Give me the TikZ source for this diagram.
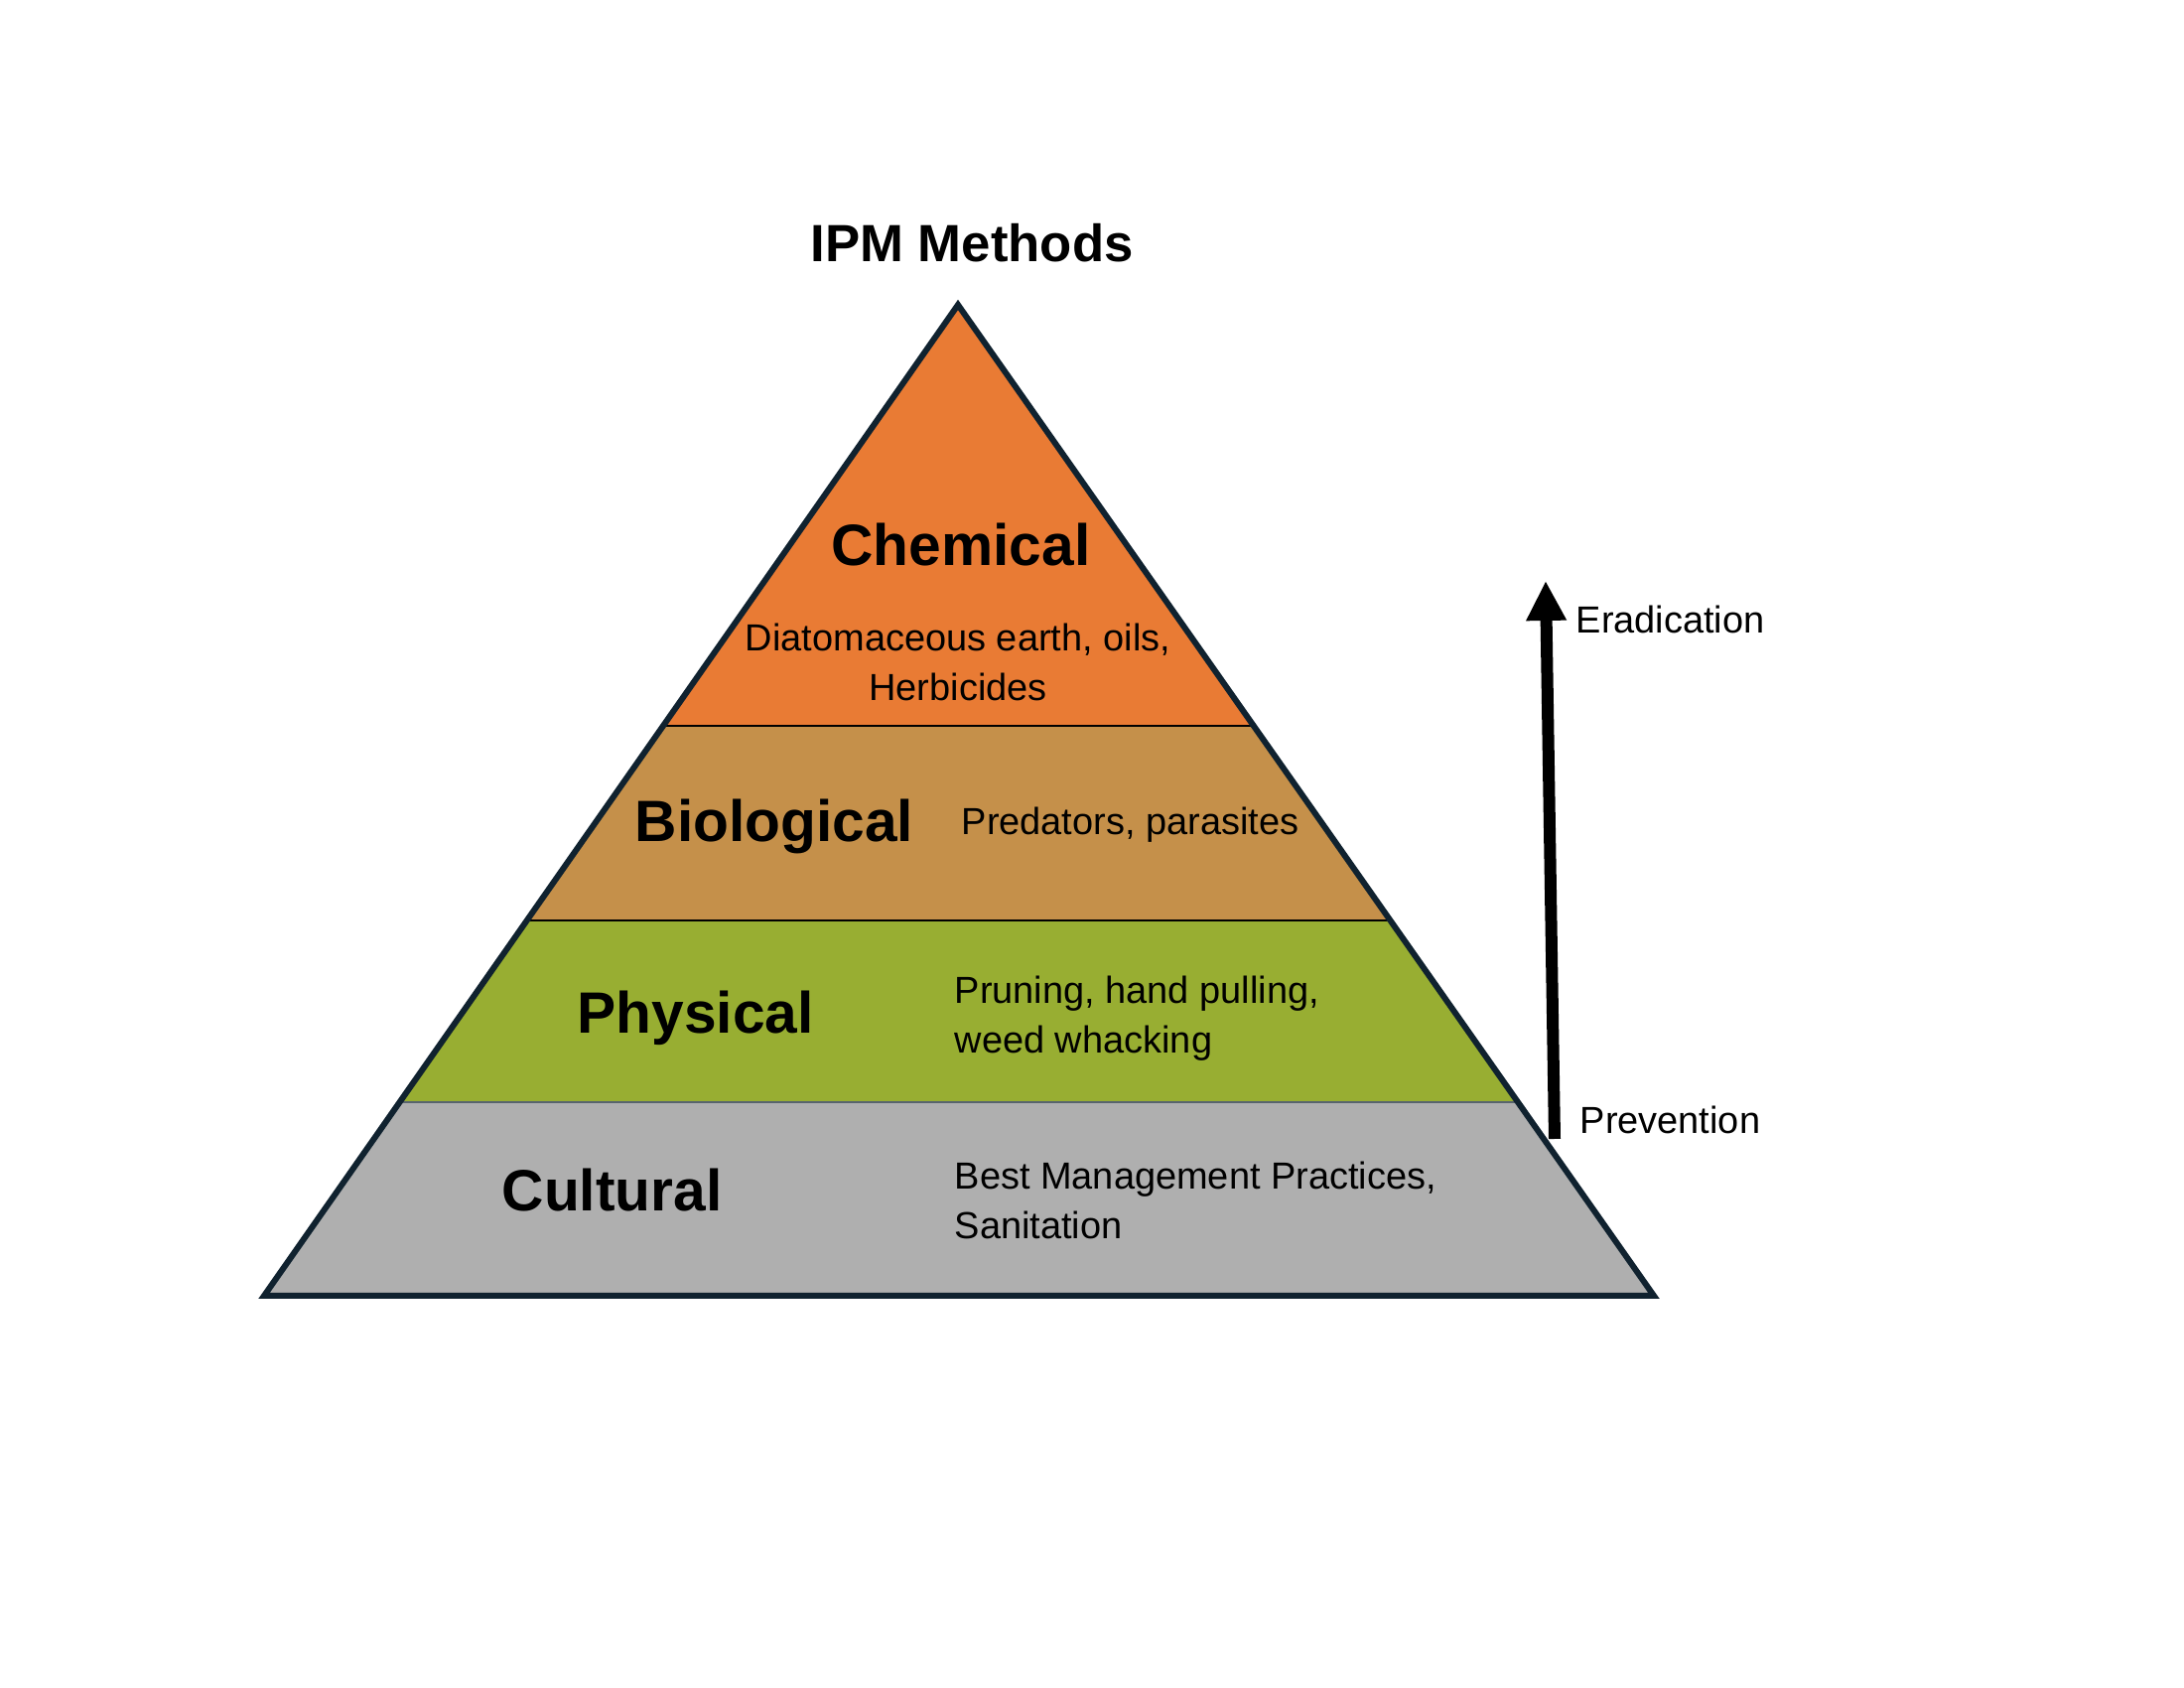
\documentclass[tikz,border=0pt]{standalone}
\usepackage{fontspec}
\setmainfont{Liberation Sans}
\usetikzlibrary{arrows.meta}
\definecolor{chemC}{HTML}{E97B34}
\definecolor{bioC}{HTML}{C5904A}
\definecolor{phyC}{HTML}{98AE32}
\definecolor{culC}{HTML}{AFAFAF}
\definecolor{edgeC}{HTML}{10222F}
\tikzset{
  bigl/.style={font=\fontsize{16.7pt}{20pt}\selectfont\bfseries, inner sep=0pt, text=black},
  small/.style={font=\fontsize{10.8pt}{14.2pt}\selectfont, inner sep=0pt, text=black},
  sep/.style={draw=black, line width=0.25mm},
}
\begin{document}
\begin{tikzpicture}[x=0.1mm,y=-0.1mm]
\useasboundingbox[fill=white] (0,0) rectangle (2200,1700);
\coordinate (A) at (965,307);
\coordinate (L) at (266,1305);
\coordinate (R) at (1666,1305);
\begin{scope}
  \clip (A) -- (L) -- (R) -- cycle;
  \fill[chemC] (0,300) rectangle (2200,731);
  \fill[bioC] (0,731) rectangle (2200,927);
  \fill[phyC] (0,927) rectangle (2200,1110);
  \fill[culC] (0,1110) rectangle (2200,1310);
  \draw[sep] (0,731) -- (2200,731);
  \draw[sep] (0,927) -- (2200,927);
  \draw[draw=edgeC!70, line width=0.12mm] (0,1110) -- (2200,1110);
\end{scope}
\draw[edgeC, line width=0.6mm, line join=miter] (A) -- (L) -- (R) -- cycle;

\node[font=\fontsize{15pt}{18pt}\selectfont\bfseries, inner sep=0pt] (title) at (979,245) {IPM Methods};

\node[bigl] (chem) at (968,549) {Chemical};
\node[small, align=center] (chemt) at (965,667) {Diatomaceous earth, oils,\\Herbicides};
\node[bigl, anchor=west] (bio) at (639,832) {Biological};
\node[small, anchor=west] (biot) at (968,831) {Predators, parasites};
\node[bigl, anchor=west] (phy) at (581,1025) {Physical};
\node[small, anchor=west, align=left] (phyt) at (961,1026) {Pruning, hand pulling,\\weed whacking};
\node[bigl, anchor=west] (cul) at (505,1199) {Cultural};
\node[small, anchor=west, align=left] (cult) at (961,1209) {Best Management Practices,\\Sanitation};

\coordinate (arrB) at (1566,1147);
\coordinate (arrT) at (1557,585);
\draw[black, line width=1.2mm, -{Triangle[width=3.8mm,length=4mm]}] (arrB) -- (arrT);
\node[small, anchor=west] (erad) at (1587,624) {Eradication};
\node[small, anchor=west] (prev) at (1591,1128) {Prevention};
\end{tikzpicture}
\end{document}
